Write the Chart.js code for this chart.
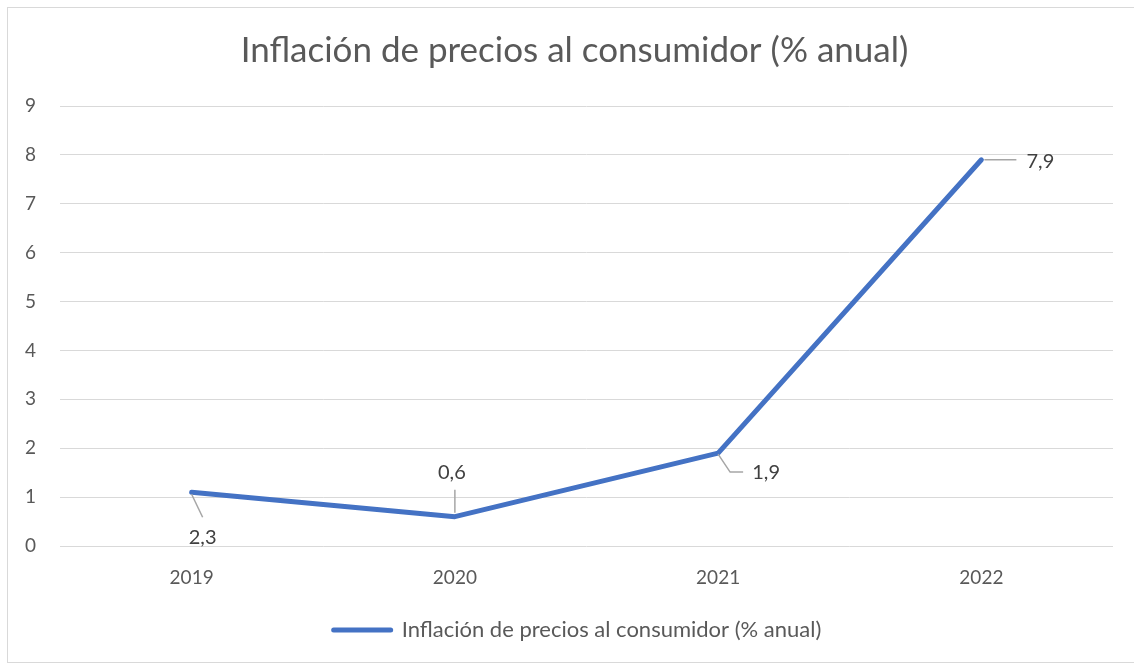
<!DOCTYPE html>
<html>
<head>
<meta charset="utf-8">
<script src="https://cdn.jsdelivr.net/npm/chart.js@4.4.0/dist/chart.umd.min.js"></script>
<style>
  html, body { margin: 0; padding: 0; background: #fff; }
  #frame { position: absolute; left: 7px; top: 7px; width: 1140px; height: 656px; border: 1px solid #d9d9d9; box-sizing: border-box; }
  canvas { position: absolute; left: 0; top: 0; }
</style>
</head>
<body>
<div id="frame"></div>
<canvas id="c" width="1134" height="666"></canvas>
<script>
const titleText = 'Inflación de precios al consumidor (% anual)';
const seriesName = 'Inflación de precios al consumidor (% anual)';
const categories = ['2019', '2020', '2021', '2022'];
const values = [1.1, 0.6, 1.9, 7.9];
const dataLabels = ['2,3', '0,6', '1,9', '7,9'];
const yTicks = [0, 1, 2, 3, 4, 5, 6, 7, 8, 9];

const FONT = 'Lato, "Open Sans", sans-serif';

// leader line / label placement relative to each point (styles)
const labelStyles = [
  { path: [[0, 2], [11, 25]], tx: 11, ty: 45 },
  { path: [[0, -4], [0, -27]], tx: -3, ty: -44 },
  { path: [[0, 1], [12, 19], [25, 19]], tx: 48, ty: 19 },
  { path: [[3, 0], [35, 0]], tx: 59, ty: 2 }
];

const labelPlugin = {
  id: 'pointLabels',
  afterLayout(chart) {
    // nudge legend and title to the reference position
    if (chart.legend) { chart.legend.left += 17; chart.legend.right += 17; }
    if (chart.titleBlock) { chart.titleBlock.left += 14; chart.titleBlock.right += 14; }
  },
  afterDatasetsDraw(chart) {
    const ctx = chart.ctx;
    const meta = chart.getDatasetMeta(0);
    ctx.save();
    meta.data.forEach((pt, i) => {
      const s = labelStyles[i];
      ctx.strokeStyle = '#a6a6a6';
      ctx.lineWidth = 1.5;
      ctx.beginPath();
      s.path.forEach((p, j) => {
        if (j === 0) ctx.moveTo(pt.x + p[0], pt.y + p[1]);
        else ctx.lineTo(pt.x + p[0], pt.y + p[1]);
      });
      ctx.stroke();
      ctx.fillStyle = '#404040';
      ctx.font = '20px ' + FONT;
      ctx.textAlign = 'center';
      ctx.textBaseline = 'middle';
      ctx.fillText(dataLabels[i], pt.x + s.tx, pt.y + s.ty);
    });
    ctx.restore();
  }
};

new Chart(document.getElementById('c'), {
  type: 'line',
  data: {
    labels: categories,
    datasets: [{
      label: seriesName,
      data: values,
      borderColor: '#4472C4',
      backgroundColor: '#4472C4',
      borderWidth: 5,
      borderCapStyle: 'round',
      borderJoinStyle: 'round',
      pointRadius: 0,
      pointHoverRadius: 0,
      tension: 0,
      fill: false
    }]
  },
  options: {
    responsive: false,
    animation: false,
    events: [],
    layout: { padding: { left: 8, right: 21, top: 0, bottom: 15 } },
    plugins: {
      title: {
        display: true,
        text: titleText,
        color: '#595959',
        font: { family: FONT, size: 35, weight: 'normal' },
        padding: { top: 30, bottom: 34 }
      },
      legend: {
        display: true,
        position: 'bottom',
        labels: {
          color: '#595959',
          font: { family: FONT, size: 22 },
          usePointStyle: true,
          pointStyleWidth: 57,
          boxHeight: 22,
          padding: 10,
          generateLabels(chart) {
            const ds = chart.data.datasets[0];
            return [{
              text: ds.label,
              fillStyle: ds.borderColor,
              strokeStyle: ds.borderColor,
              lineWidth: 5,
              lineCap: 'round',
              pointStyle: 'line',
              fontColor: '#595959',
              datasetIndex: 0
            }];
          }
        }
      },
      tooltip: { enabled: false }
    },
    scales: {
      x: {
        offset: true,
        grid: { display: false, drawTicks: false },
        border: { display: false },
        ticks: { color: '#595959', font: { family: FONT, size: 19 }, padding: 20 },
        afterFit(scale) { scale.height = 63; }
      },
      y: {
        min: 0,
        max: 9,
        afterBuildTicks(scale) { scale.ticks = yTicks.map(v => ({ value: v })); },
        grid: { color: '#d9d9d9', lineWidth: 1, drawTicks: false },
        border: { display: false },
        ticks: { color: '#595959', font: { family: FONT, size: 19 }, padding: 24 },
        afterFit(scale) { scale.width = 52; }
      }
    }
  },
  plugins: [labelPlugin]
});
</script>
</body>
</html>
